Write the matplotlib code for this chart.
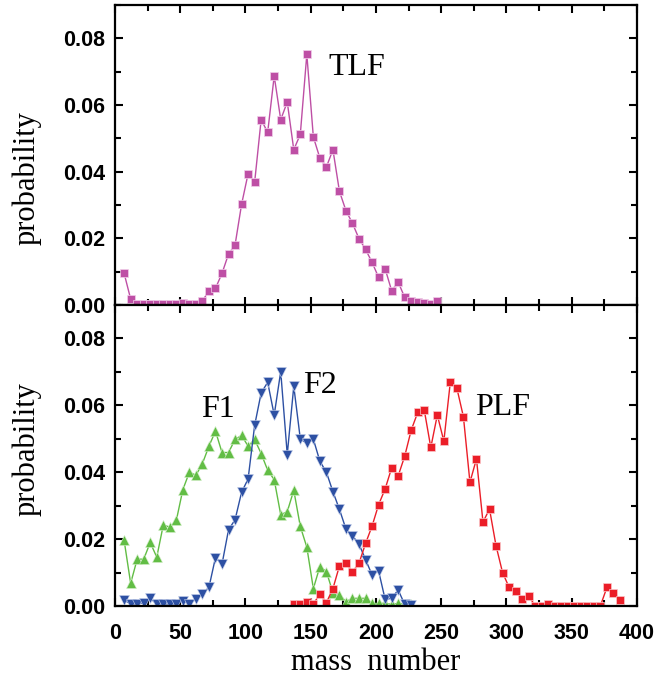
import matplotlib.pyplot as plt
from matplotlib.ticker import MultipleLocator

# top panel: target-like fragment
tlf_mass = [7, 12, 17, 22, 27, 32, 37, 42, 47, 52, 57, 62, 67, 72, 77, 82, 87, 92, 97,
            102, 107, 112, 117, 122, 127, 132, 137, 142, 147, 152, 157, 162, 167, 172,
            177, 182, 187, 192, 197, 202, 207, 212, 217, 222, 227, 232, 237, 242, 247]
tlf_prob = [0.0095, 0.0018, 0.0002, 0.0002, 0.0002, 0.0002, 0.0002, 0.0002, 0.0002,
            0.0006, 0.0002, 0.0002, 0.0012, 0.0043, 0.0050, 0.0095, 0.0153, 0.0180,
            0.0302, 0.0394, 0.0368, 0.0556, 0.0518, 0.0687, 0.0556, 0.0609, 0.0466,
            0.0512, 0.0752, 0.0504, 0.0441, 0.0414, 0.0466, 0.0341, 0.0283, 0.0245,
            0.0199, 0.0167, 0.0128, 0.0083, 0.0109, 0.0043, 0.0069, 0.0023, 0.0011,
            0.0010, 0.0005, 0.0003, 0.0011]

# bottom panel: fission fragments and projectile-like fragment
f_mass = [7, 12, 17, 22, 27, 32, 37, 42, 47, 52, 57, 62, 67, 72, 77, 82, 87, 92, 97,
          102, 107, 112, 117, 122, 127, 132, 137, 142, 147, 152, 157, 162, 167, 172,
          177, 182, 187, 192, 197, 202, 207, 212, 217, 222, 227]
f1_prob = [0.0196, 0.0068, 0.0140, 0.0140, 0.0190, 0.0146, 0.0242, 0.0236, 0.0256,
           0.0348, 0.0400, 0.0391, 0.0426, 0.0478, 0.0523, 0.0459, 0.0459, 0.0498,
           0.0510, 0.0478, 0.0498, 0.0456, 0.0406, 0.0378, 0.0273, 0.0282, 0.0346,
           0.0238, 0.0176, 0.0052, 0.0118, 0.0103, 0.0040, 0.0034, 0.0013, 0.0023,
           0.0023, 0.0023, 0.0008, 0.0008, 0.0008, 0.0005, 0.0008, 0.0005, 0.0005]
f2_prob = [0.0018, 0.0006, 0.0006, 0.0010, 0.0023, 0.0006, 0.0006, 0.0006, 0.0006,
           0.0015, 0.0006, 0.0021, 0.0036, 0.0056, 0.0145, 0.0125, 0.0228, 0.0258,
           0.0340, 0.0380, 0.0540, 0.0637, 0.0669, 0.0571, 0.0701, 0.0453, 0.0657,
           0.0500, 0.0486, 0.0499, 0.0433, 0.0400, 0.0342, 0.0289, 0.0230, 0.0210,
           0.0185, 0.0139, 0.0093, 0.0105, 0.0020, 0.0023, 0.0048, 0.0005, 0.0004]
plf_mass = [137, 142, 147, 152, 157, 162, 167, 172, 177, 182, 187, 192, 197, 202, 207,
            212, 217, 222, 227, 232, 237, 242, 247, 252, 257, 262, 267, 272, 277, 282,
            287, 292, 297, 302, 307, 312, 317, 322, 327, 332, 337, 342, 347, 352, 357,
            362, 367, 372, 377, 382, 387]
plf_prob = [0.0006, 0.0006, 0.0013, 0.0006, 0.0036, 0.0010, 0.0052, 0.0120, 0.0128,
            0.0102, 0.0128, 0.0187, 0.0239, 0.0303, 0.0350, 0.0413, 0.0389, 0.0448,
            0.0526, 0.0579, 0.0586, 0.0474, 0.0571, 0.0493, 0.0671, 0.0651, 0.0566,
            0.0370, 0.0440, 0.0251, 0.0290, 0.0180, 0.0100, 0.0056, 0.0046, 0.0022,
            0.0030, 0.0001, 0.0001, 0.0005, 0.0001, 0.0001, 0.0001, 0.0001, 0.0001,
            0.0001, 0.0001, 0.0001, 0.0056, 0.0038, 0.0018]

magenta = "#BE4FA5"
green = "#62BD45"
blue = "#2D50A3"
red = "#EB1E28"

plt.rcParams["font.family"] = "Liberation Sans"
fig = plt.figure(figsize=(6.56, 6.85), dpi=100)
ax1 = fig.add_axes([0.1753, 0.5547, 0.7957, 0.4380])
ax2 = fig.add_axes([0.1753, 0.1153, 0.7957, 0.4394])

ax1.plot(tlf_mass, tlf_prob, color=magenta, lw=1, marker="s", ms=5.6,
         mec="#F2D0EA", mew=0.5)
ax2.plot(f_mass, f1_prob, color=green, lw=1, marker="^", ms=7,
         mec="#D6F0CC", mew=0.4)
ax2.plot(f_mass, f2_prob, color=blue, lw=1, marker="v", ms=7,
         mec="#C8D2EC", mew=0.4)
ax2.plot(plf_mass, plf_prob, color=red, lw=1, marker="s", ms=5.6,
         mec="#FBC8CA", mew=0.5)

serif = "Liberation Serif"
ax1.text(185, 0.0713, "TLF", fontsize=23, family=serif, ha="center", va="center")
ax2.text(79, 0.0589, "F1", fontsize=23, family=serif, ha="center", va="center")
ax2.text(157, 0.066, "F2", fontsize=23, family=serif, ha="center", va="center")
ax2.text(297, 0.0594, "PLF", fontsize=23, family=serif, ha="center", va="center")

for ax in (ax1, ax2):
    ax.set_xlim(0, 400)
    ax.set_ylim(0, 0.09)
    ax.xaxis.set_major_locator(MultipleLocator(50))
    ax.xaxis.set_minor_locator(MultipleLocator(25))
    ax.yaxis.set_minor_locator(MultipleLocator(0.01))
    ax.set_yticks([0, 0.02, 0.04, 0.06, 0.08])
    ax.set_yticklabels(["0.00", "0.02", "0.04", "0.06", "0.08"])
    ax.tick_params(which="both", direction="in", top=True, right=True, width=1.5)
    ax.tick_params(which="major", length=6)
    ax.tick_params(which="minor", length=4)
    ax.tick_params(axis="y", labelsize=15.5, pad=7)
    ax.tick_params(axis="x", labelsize=15.5, pad=12)
    for lab in ax.get_xticklabels() + ax.get_yticklabels():
        lab.set_fontweight("bold")
    for sp in ax.spines.values():
        sp.set_linewidth(1.6)

ax1.tick_params(axis="x", labelbottom=False)

fig.text(27 / 656, 1 - 178 / 685, "probability", rotation=90, fontsize=22,
         family=serif, ha="center", va="center")
fig.text(27 / 656, 1 - 449 / 685, "probability", rotation=90, fontsize=22,
         family=serif, ha="center", va="center")
fig.text(376 / 656, 1 - 663 / 685, "mass  number", fontsize=22,
         family=serif, ha="center", va="center")

plt.savefig("out.png", dpi=100)
